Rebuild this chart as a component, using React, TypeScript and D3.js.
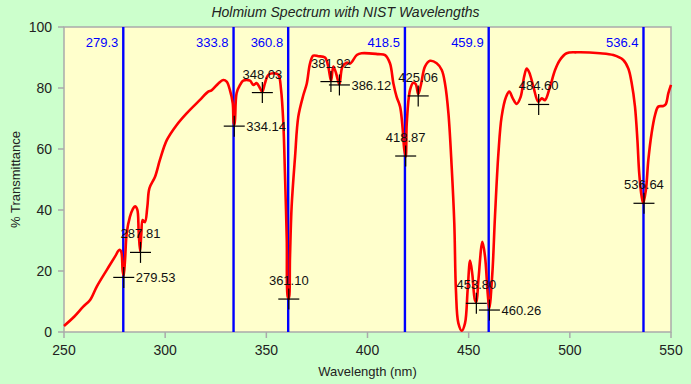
import React from 'react';
import * as d3 from 'd3';

const width = 691;
const height = 384;

// spectrum
const wavelengths = [
  250, 255, 259.5, 262.9, 266.2, 271.1, 275.2, 277.3, 278.2, 279.0, 279.5, 280.2, 281, 282.6, 284, 285.1,
  286.2, 286.9, 287.6, 288.2, 288.9, 290, 291.2, 292.2, 295, 297.4, 300.8, 305.7, 310.6, 317.2, 321.3,
  322.9, 326.3, 328.7, 330.4, 332, 333.4, 333.9, 334.3, 335.3, 337, 338.6, 341.9, 343.6, 345.2, 346.9,
  348, 349.3, 351, 354.3, 356, 357.3, 358.4, 359.2, 360.1, 360.6, 361.1, 361.7, 362.5, 364.2, 365.8,
  368.3, 370, 371.6, 373.2, 375.7, 379, 380.6, 382, 383.1, 384.4, 386.1, 387.6, 389.7, 391.4, 394.7,
  397.1, 405.4, 408.7, 411.1, 412.8, 414.4, 416.1, 417.2, 418.2, 418.9, 419.4, 421, 422.6, 423.8, 425.1,
  426.4, 428.4, 430.9, 434.2, 436.7, 438.3, 440, 441.6, 442.9, 443.7, 444.9, 446.6, 448.2, 449.5, 450.7,
  451.8, 453.1, 453.8, 454.8, 456.8, 458.1, 459.4, 460.2, 461.7, 463, 464.7, 466.3, 468.5, 470.1, 471.8,
  473.7, 475.7, 477.4, 478.7, 480, 482, 484.4, 486.1, 487.7, 490.2, 492.7, 495.1, 498.4, 503.4, 514.9,
  521.5, 526.4, 528.9, 530.6, 532.2, 533.4, 534.3, 535.5, 536.3, 537.6, 538.8, 540.4, 542.1, 543.7,
  546.2, 547.4, 548.7, 550,
];
const transmittance = [
  2, 5, 8.3, 10.5, 14.9, 20.3, 24.7, 26.9, 26.5, 20, 18.5, 24, 32.4, 37.8, 40.3, 41.2,
  40.2, 33, 26.5, 32, 36.7, 36, 41.1, 47.1, 50.9, 56.4, 62.9, 67.9, 71.7, 76.1, 78.8,
  79.2, 81.5, 82.6, 82.1, 79.3, 75, 68.5, 68, 78.3, 81, 82.4, 82.4, 81, 81.6, 79.9,
  78.8, 81.5, 84.3, 84.8, 84.3, 79.3, 68.4, 52, 30.2, 11.5, 11, 24.7, 41.1, 57.5, 70.6,
  77.7, 81.5, 88.1, 90.6, 90.4, 90, 87, 82.3, 87, 85, 81.2, 87, 88.3, 88, 90.8,
  91.4, 91.1, 90.8, 88.1, 81.5, 77.1, 73.9, 68, 59.7, 57.5, 68.4, 79.3, 81.7, 81.3, 78,
  81, 87, 88.9, 88.1, 85.9, 81.5, 71.7, 54.2, 35.6, 13.8, 2.9, 0.4, 2.9, 13.8, 23.4,
  19, 10.5, 9.8, 17, 29.6, 24.7, 12.7, 7.8, 19.2, 37.8, 58.6, 70.6, 77.1, 78.8, 76.6,
  74.8, 77.1, 83.7, 86.4, 85, 80.4, 75.5, 76.6, 76, 80.4, 85.9, 89.2, 91.4, 91.7, 91.4,
  90.8, 89.2, 86.4, 81.5, 73.9, 62.9, 52, 44.4, 42.2, 46.6, 56.4, 65.1, 71.1, 73.9,
  74.1, 74.7, 78.3, 81,
];

// NIST reference lines
const nistLines = [279.3, 333.8, 360.8, 418.5, 459.9, 536.4];

// measured peaks
const peakWl = [279.53, 287.81, 334.14, 348.03, 361.1, 381.92, 386.12, 418.87, 425.06, 453.8, 460.26, 484.6, 536.64];
const peakT = [17.9, 26.1, 67.5, 78.5, 10.8, 82.1, 81, 57.7, 77.4, 9.4, 7.2, 74.6, 42.2];
const peakSide = ['right', 'top', 'right', 'top', 'top', 'top', 'right', 'top', 'top', 'top', 'right', 'top', 'top'];

const xTicks = [250, 300, 350, 400, 450, 500, 550];
const yTicks = [0, 20, 40, 60, 80, 100];

const font = '"Liberation Sans", Arial, sans-serif';

export default function App() {
  const x = d3.scaleLinear().domain([250, 550]).range([64, 671]);
  const y = d3.scaleLinear().domain([0, 100]).range([332, 27]);

  const pts = wavelengths.map((w, i) => [w, transmittance[i]] as [number, number]);
  const line = d3.line<[number, number]>()
    .x(d => x(d[0]))
    .y(d => y(d[1]))
    .curve(d3.curveCatmullRom.alpha(0.5));

  const [x0, x1] = x.range();
  const [yb, yt] = y.range();

  return (
    <svg width={width} height={height} style={{ position: 'absolute', left: 0, top: 0 }} fontFamily={font}>
      <rect width={width} height={height} fill="#ccffcc" />
      <rect x={x0} y={yt} width={x1 - x0} height={yb - yt} fill="#ffffcc" stroke="#aaaaaa" strokeWidth={1.5} />

      <text x={width / 2} y={17} textAnchor="middle" fontSize={14} fontStyle="italic" fill="#222">
        Holmium Spectrum with NIST Wavelengths
      </text>

      {/* axes */}
      {xTicks.map(t => (
        <g key={'x' + t}>
          <line x1={x(t)} x2={x(t)} y1={yb} y2={yb + 6} stroke="#aaaaaa" strokeWidth={1.5} />
          <text x={x(t)} y={yb + 23} textAnchor="middle" fontSize={14} fill="#222">{t}</text>
        </g>
      ))}
      {yTicks.map(t => (
        <g key={'y' + t}>
          <line x1={x0 - 6} x2={x0} y1={y(t)} y2={y(t)} stroke="#aaaaaa" strokeWidth={1.5} />
          <text x={x0 - 12} y={y(t) + 5} textAnchor="end" fontSize={14} fill="#222">{t}</text>
        </g>
      ))}
      <text x={(x0 + x1) / 2} y={376} textAnchor="middle" fontSize={13} fill="#222">Wavelength (nm)</text>
      <text transform={`translate(20,${(yt + yb) / 2}) rotate(-90)`} textAnchor="middle" fontSize={13} fill="#222">
        % Transmittance
      </text>

      {/* NIST lines */}
      {nistLines.map(w => (
        <g key={'n' + w}>
          <line x1={x(w)} x2={x(w)} y1={yt} y2={yb} stroke="#0000ff" strokeWidth={2.4} />
          <text x={x(w) - 5} y={47} textAnchor="end" fontSize={13} fill="#0000ff">{w.toFixed(1)}</text>
        </g>
      ))}

      <path d={line(pts) || ''} fill="none" stroke="#ff0000" strokeWidth={2.6} strokeLinejoin="round" />

      {/* peak markers */}
      {peakWl.map((w, i) => {
        const cx = x(w);
        const cy = y(peakT[i]);
        return (
          <g key={'p' + w}>
            <line x1={cx - 10.5} x2={cx + 10.5} y1={cy} y2={cy} stroke="#000" strokeWidth={1.2} />
            <line x1={cx} x2={cx} y1={cy - 10.5} y2={cy + 10.5} stroke="#000" strokeWidth={1.2} />
            {peakSide[i] === 'right' ? (
              <text x={cx + 12} y={cy + 5} fontSize={13} fill="#111">{w.toFixed(2)}</text>
            ) : (
              <text x={cx} y={cy - 14} textAnchor="middle" fontSize={13} fill="#111">{w.toFixed(2)}</text>
            )}
          </g>
        );
      })}
    </svg>
  );
}
